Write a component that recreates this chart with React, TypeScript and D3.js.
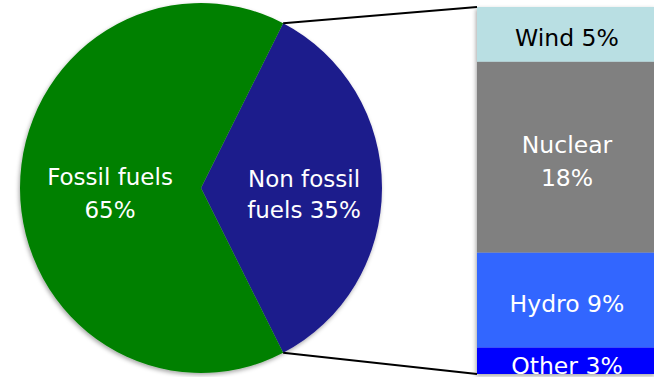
import React from "react";
import * as d3 from "d3";

const pieLabels = ["Non fossil fuels 35%", "Fossil fuels 65%"];
const pieValues = [35, 65];
const pieColors = ["#1e1b8c", "#008000"];
const pieLines = [["Non fossil", "fuels 35%"], ["Fossil fuels", "65%"]];

const barCategories = ["Wind", "Nuclear", "Hydro", "Other"];
const barValues = [5.2, 18.1, 9.0, 2.5];
const barLines = [["Wind 5%"], ["Nuclear", "18%"], ["Hydro 9%"], ["Other 3%"]];
const barColors = ["#b9dfe3", "#808080", "#3366ff", "#0000ff"];
const barTextColors = ["#000000", "#ffffff", "#ffffff", "#ffffff"];

const W = 654;
const H = 377;

export default function App() {
  const cx = 201, cy = 188, rx = 181, ry = 185;
  const nonFrac = pieValues[0] / d3.sum(pieValues);
  const start = Math.PI / 2 - nonFrac * Math.PI;
  const pie = d3.pie<number>().sort(null).startAngle(start).endAngle(start + 2 * Math.PI);
  const arcs = pie(pieValues);
  const arc = d3.arc<d3.PieArcDatum<number>>().innerRadius(0).outerRadius(rx);

  const pt = (a: number) => [cx + rx * Math.sin(a), cy - ry * Math.cos(a)];
  const pTop = pt(arcs[0].startAngle);
  const pBot = pt(arcs[0].endAngle);

  const barX0 = 477, barX1 = 656;
  const total = d3.sum(barValues);
  const y = d3.scaleLinear().domain([0, total]).range([7, 374]);
  const cum = d3.cumsum(barValues);
  const segs = barValues.map((v, i) => ({ y0: y(cum[i] - v), y1: y(cum[i]), i }));

  const pieTextPos = [
    { x: 304, y: [187, 218] },
    { x: 110, y: [185, 218] },
  ];
  const barTextY: number[][] = [[46], [153, 186], [312], [374]];

  const font = "'DejaVu Sans', Verdana, sans-serif";

  return (
    <svg width={W} height={H} style={{ position: "absolute", left: 0, top: 0 }}>
      <defs>
        <filter id="sh" x="-10%" y="-10%" width="120%" height="120%">
          <feDropShadow dx="-1" dy="2" stdDeviation="2" floodColor="#000" floodOpacity="0.35" />
        </filter>
      </defs>
      <rect width={W} height={H} fill="#fff" />
      <g filter="url(#sh)">
        <g transform={`translate(${cx},${cy}) scale(1,${ry / rx})`}>
          {arcs.map((a, i) => (
            <path key={i} d={arc(a) || ""} fill={pieColors[i]} />
          ))}
        </g>
      </g>
      <g filter="url(#sh)">
        {segs.map((s) => (
          <rect key={s.i} x={barX0} y={s.y0} width={barX1 - barX0} height={s.y1 - s.y0} fill={barColors[s.i]} />
        ))}
      </g>
      <line x1={pTop[0]} y1={pTop[1]} x2={barX0} y2={y(0)} stroke="#000" strokeWidth={2} />
      <line x1={pBot[0]} y1={pBot[1]} x2={barX0} y2={y(total)} stroke="#000" strokeWidth={2} />
      {pieLines.map((lines, i) =>
        lines.map((t, j) => (
          <text key={`${i}-${j}`} x={pieTextPos[i].x} y={pieTextPos[i].y[j]} textAnchor="middle"
            fontFamily={font} fontSize={23} fill="#fff">{t}</text>
        ))
      )}
      {barLines.map((lines, i) =>
        lines.map((t, j) => (
          <text key={`b${i}-${j}`} x={567} y={barTextY[i][j]} textAnchor="middle"
            fontFamily={font} fontSize={23.5} fill={barTextColors[i]}>{t}</text>
        ))
      )}
    </svg>
  );
}
